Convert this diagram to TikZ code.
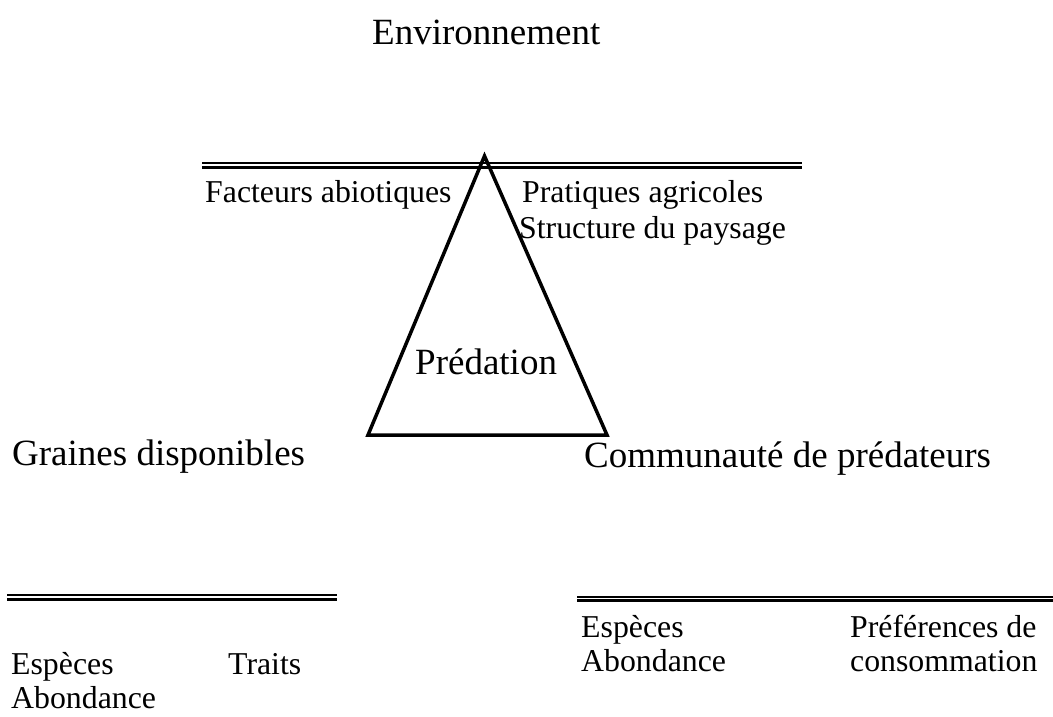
\documentclass[tikz,border=0pt]{standalone}
\usepackage{fontspec}
\setmainfont{Liberation Serif}
\begin{document}
\begin{tikzpicture}[x=1pt,y=-1pt,
  big/.style={anchor=base west,inner sep=0pt,font=\fontsize{37}{40}\selectfont},
  small/.style={anchor=base west,inner sep=0pt,font=\fontsize{31.8}{35}\selectfont},
  thinrule/.style={line width=1.6pt},
  thickrule/.style={line width=3pt},
  tri/.style={line width=3.5pt,line join=miter}]
\useasboundingbox (0,0) rectangle (1053,716);
% double rules
\coordinate (t1) at (202,162.8); \coordinate (t2) at (802,162.8);
\coordinate (t3) at (202,167);   \coordinate (t4) at (802,167);
\draw[thinrule] (t1) -- (t2);
\draw[thickrule] (t3) -- (t4);
\coordinate (l1) at (7,595);   \coordinate (l2) at (337,595);
\coordinate (l3) at (7,599);   \coordinate (l4) at (337,599);
\draw[thinrule] (l1) -- (l2);
\draw[thickrule] (l3) -- (l4);
\coordinate (r1) at (577,596.8); \coordinate (r2) at (1053,596.8);
\coordinate (r3) at (577,600.8); \coordinate (r4) at (1053,600.8);
\draw[thinrule] (r1) -- (r2);
\draw[thickrule] (r3) -- (r4);
% triangle
\coordinate (apex) at (484.5,156);
\coordinate (bl) at (368,435);
\coordinate (br) at (607,435);
\draw[tri] (apex) -- (bl) -- (br) -- cycle;
% texts
\node[big] (env) at (372,44) {Environnement};
\node[small] (fa) at (205,202.7) {Facteurs abiotiques};
\node[small] (pa) at (522,202) {Pratiques agricoles};
\node[small] (sp) at (519,238) {Structure du paysage};
\node[big] (pred) at (415,374) {Prédation};
\node[big] (gd) at (12,465) {Graines disponibles};
\node[big] (cp) at (584,467) {Communauté de prédateurs};
\node[small] (e1) at (11,674) {Espèces};
\node[small] (tr) at (228,674) {Traits};
\node[small] (a1) at (11,708) {Abondance};
\node[small] (e2) at (581,637) {Espèces};
\node[small] (a2) at (581,671) {Abondance};
\node[small] (pc) at (850,637) {Préférences de};
\node[small] (co) at (850,671) {consommation};
\end{tikzpicture}
\end{document}
